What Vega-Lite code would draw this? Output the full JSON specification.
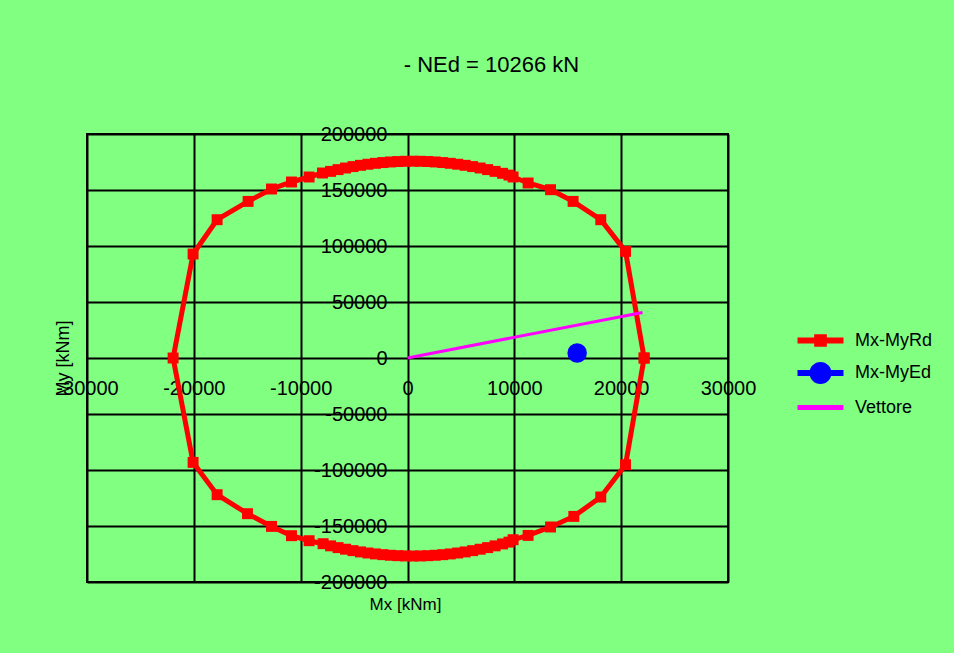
{
  "$schema": "https://vega.github.io/schema/vega-lite/v6.json",
  "autosize": "none",
  "width": 641,
  "height": 448,
  "padding": {"left": 87, "top": 134, "right": 226, "bottom": 71},
  "background": "#80FF80",
  "title": {
    "text": "- NEd = 10266 kN",
    "font": "Liberation Sans",
    "fontSize": 22,
    "fontWeight": "normal",
    "color": "black",
    "anchor": "middle",
    "frame": "group",
    "baseline": "middle",
    "dx": 84,
    "offset": 37
  },
  "data": {
    "values": [
      {"series": "Mx-MyRd", "ord": 0, "mx": 22150, "my": 0},
      {"series": "Mx-MyRd", "ord": 1, "mx": 20410, "my": 95180},
      {"series": "Mx-MyRd", "ord": 2, "mx": 18090, "my": 123480},
      {"series": "Mx-MyRd", "ord": 3, "mx": 15500, "my": 139820},
      {"series": "Mx-MyRd", "ord": 4, "mx": 13390, "my": 150270},
      {"series": "Mx-MyRd", "ord": 5, "mx": 11290, "my": 156250},
      {"series": "Mx-MyRd", "ord": 6, "mx": 9885, "my": 161610},
      {"series": "Mx-MyRd", "ord": 7, "mx": 9500, "my": 163310},
      {"series": "Mx-MyRd", "ord": 8, "mx": 8900, "my": 164900},
      {"series": "Mx-MyRd", "ord": 9, "mx": 8200, "my": 166630},
      {"series": "Mx-MyRd", "ord": 10, "mx": 7500, "my": 168200},
      {"series": "Mx-MyRd", "ord": 11, "mx": 6800, "my": 169630},
      {"series": "Mx-MyRd", "ord": 12, "mx": 6100, "my": 170900},
      {"series": "Mx-MyRd", "ord": 13, "mx": 5400, "my": 172030},
      {"series": "Mx-MyRd", "ord": 14, "mx": 4700, "my": 173000},
      {"series": "Mx-MyRd", "ord": 15, "mx": 4000, "my": 173830},
      {"series": "Mx-MyRd", "ord": 16, "mx": 3300, "my": 174500},
      {"series": "Mx-MyRd", "ord": 17, "mx": 2600, "my": 175030},
      {"series": "Mx-MyRd", "ord": 18, "mx": 1900, "my": 175400},
      {"series": "Mx-MyRd", "ord": 19, "mx": 1200, "my": 175625},
      {"series": "Mx-MyRd", "ord": 20, "mx": 500, "my": 175700},
      {"series": "Mx-MyRd", "ord": 21, "mx": -200, "my": 175625},
      {"series": "Mx-MyRd", "ord": 22, "mx": -900, "my": 175400},
      {"series": "Mx-MyRd", "ord": 23, "mx": -1600, "my": 175030},
      {"series": "Mx-MyRd", "ord": 24, "mx": -2300, "my": 174500},
      {"series": "Mx-MyRd", "ord": 25, "mx": -3000, "my": 173830},
      {"series": "Mx-MyRd", "ord": 26, "mx": -3700, "my": 173000},
      {"series": "Mx-MyRd", "ord": 27, "mx": -4400, "my": 172030},
      {"series": "Mx-MyRd", "ord": 28, "mx": -5100, "my": 170900},
      {"series": "Mx-MyRd", "ord": 29, "mx": -5800, "my": 169630},
      {"series": "Mx-MyRd", "ord": 30, "mx": -6500, "my": 168200},
      {"series": "Mx-MyRd", "ord": 31, "mx": -7200, "my": 166630},
      {"series": "Mx-MyRd", "ord": 32, "mx": -7960, "my": 165180},
      {"series": "Mx-MyRd", "ord": 33, "mx": -9210, "my": 161610},
      {"series": "Mx-MyRd", "ord": 34, "mx": -10860, "my": 157140},
      {"series": "Mx-MyRd", "ord": 35, "mx": -12730, "my": 150890},
      {"series": "Mx-MyRd", "ord": 36, "mx": -14920, "my": 139820},
      {"series": "Mx-MyRd", "ord": 37, "mx": -17820, "my": 123480},
      {"series": "Mx-MyRd", "ord": 38, "mx": -20070, "my": 92860},
      {"series": "Mx-MyRd", "ord": 39, "mx": -21940, "my": 0},
      {"series": "Mx-MyRd", "ord": 40, "mx": -20070, "my": -93210},
      {"series": "Mx-MyRd", "ord": 41, "mx": -17820, "my": -122050},
      {"series": "Mx-MyRd", "ord": 42, "mx": -14980, "my": -139020},
      {"series": "Mx-MyRd", "ord": 43, "mx": -12730, "my": -150360},
      {"series": "Mx-MyRd", "ord": 44, "mx": -10860, "my": -158660},
      {"series": "Mx-MyRd", "ord": 45, "mx": -9210, "my": -163130},
      {"series": "Mx-MyRd", "ord": 46, "mx": -7900, "my": -165800},
      {"series": "Mx-MyRd", "ord": 47, "mx": -7200, "my": -167730},
      {"series": "Mx-MyRd", "ord": 48, "mx": -6500, "my": -169300},
      {"series": "Mx-MyRd", "ord": 49, "mx": -5800, "my": -170730},
      {"series": "Mx-MyRd", "ord": 50, "mx": -5100, "my": -172000},
      {"series": "Mx-MyRd", "ord": 51, "mx": -4400, "my": -173130},
      {"series": "Mx-MyRd", "ord": 52, "mx": -3700, "my": -174100},
      {"series": "Mx-MyRd", "ord": 53, "mx": -3000, "my": -174930},
      {"series": "Mx-MyRd", "ord": 54, "mx": -2300, "my": -175600},
      {"series": "Mx-MyRd", "ord": 55, "mx": -1600, "my": -176130},
      {"series": "Mx-MyRd", "ord": 56, "mx": -900, "my": -176500},
      {"series": "Mx-MyRd", "ord": 57, "mx": -200, "my": -176725},
      {"series": "Mx-MyRd", "ord": 58, "mx": 500, "my": -176800},
      {"series": "Mx-MyRd", "ord": 59, "mx": 1200, "my": -176725},
      {"series": "Mx-MyRd", "ord": 60, "mx": 1900, "my": -176500},
      {"series": "Mx-MyRd", "ord": 61, "mx": 2600, "my": -176130},
      {"series": "Mx-MyRd", "ord": 62, "mx": 3300, "my": -175600},
      {"series": "Mx-MyRd", "ord": 63, "mx": 4000, "my": -174930},
      {"series": "Mx-MyRd", "ord": 64, "mx": 4700, "my": -174100},
      {"series": "Mx-MyRd", "ord": 65, "mx": 5400, "my": -173130},
      {"series": "Mx-MyRd", "ord": 66, "mx": 6100, "my": -172000},
      {"series": "Mx-MyRd", "ord": 67, "mx": 6800, "my": -170730},
      {"series": "Mx-MyRd", "ord": 68, "mx": 7500, "my": -169300},
      {"series": "Mx-MyRd", "ord": 69, "mx": 8200, "my": -167730},
      {"series": "Mx-MyRd", "ord": 70, "mx": 8900, "my": -166000},
      {"series": "Mx-MyRd", "ord": 71, "mx": 9500, "my": -164410},
      {"series": "Mx-MyRd", "ord": 72, "mx": 9885, "my": -162230},
      {"series": "Mx-MyRd", "ord": 73, "mx": 11290, "my": -158390},
      {"series": "Mx-MyRd", "ord": 74, "mx": 13390, "my": -150890},
      {"series": "Mx-MyRd", "ord": 75, "mx": 15570, "my": -141430},
      {"series": "Mx-MyRd", "ord": 76, "mx": 18090, "my": -124110},
      {"series": "Mx-MyRd", "ord": 77, "mx": 20410, "my": -95270},
      {"series": "Mx-MyRd", "ord": 78, "mx": 22150, "my": 0},
      {"series": "Mx-MyEd", "ord": 0, "mx": 15880, "my": 4460},
      {"series": "Vettore", "ord": 0, "mx": 0, "my": 0},
      {"series": "Vettore", "ord": 1, "mx": 22000, "my": 40710}
    ]
  },
  "encoding": {
    "x": {
      "field": "mx",
      "type": "quantitative",
      "scale": {"domain": [-30000, 30000], "nice": false, "zero": false},
      "axis": {
        "values": [-30000, -20000, -10000, 0, 10000, 20000, 30000],
        "orient": "bottom",
        "offset": -224,
        "domain": false,
        "ticks": false,
        "labelPadding": 20,
        "labelExpr": "'' + datum.value",
        "labelOverlap": false,
        "labelFlush": false,
        "labelBound": false,
        "labelFontSize": 20,
        "title": "Mx [kNm]",
        "titleFontSize": 17,
        "titleX": 318,
        "titleY": 246,
        "titleAlign": "center",
        "titleBaseline": "middle"
      }
    },
    "y": {
      "field": "my",
      "type": "quantitative",
      "scale": {"domain": [-200000, 200000], "nice": false, "zero": false},
      "axis": {
        "values": [-200000, -150000, -100000, -50000, 0, 50000, 100000, 150000, 200000],
        "orient": "left",
        "offset": -321,
        "domain": false,
        "ticks": false,
        "labelPadding": 21,
        "labelExpr": "'' + datum.value",
        "labelOverlap": false,
        "labelFlush": false,
        "labelBound": false,
        "labelFontSize": 20,
        "title": "My [kNm]",
        "titleFontSize": 18,
        "titleX": -345,
        "titleY": 224,
        "titleAngle": -90,
        "titleAlign": "center",
        "titleBaseline": "middle"
      }
    }
  },
  "layer": [
    {
      "transform": [{"filter": {"field": "series", "equal": "Mx-MyRd"}}],
      "mark": {"type": "line", "color": "#FF0000", "strokeWidth": 5, "strokeJoin": "miter"},
      "encoding": {"order": {"field": "ord", "type": "quantitative"}}
    },
    {
      "transform": [{"filter": {"field": "series", "equal": "Mx-MyRd"}}],
      "mark": {"type": "point", "shape": "square", "filled": true, "color": "#FF0000", "opacity": 1, "size": 120, "strokeWidth": 0}
    },
    {
      "transform": [{"filter": {"field": "series", "equal": "Vettore"}}],
      "mark": {"type": "line", "color": "#FF00FF", "strokeWidth": 3},
      "encoding": {"order": {"field": "ord", "type": "quantitative"}}
    },
    {
      "transform": [{"filter": {"field": "series", "equal": "Mx-MyEd"}}],
      "mark": {"type": "point", "shape": "circle", "filled": true, "color": "#0000FF", "opacity": 1, "size": 380, "strokeWidth": 0}
    },
    {
      "transform": [{"filter": "false"}],
      "mark": {"type": "point", "filled": true, "opacity": 1, "strokeWidth": 0},
      "encoding": {
        "color": {
          "field": "series",
          "type": "nominal",
          "scale": {"domain": ["Mx-MyRd", "Mx-MyEd", "Vettore"], "range": ["#FF0000", "#0000FF", "#FF00FF"]},
          "legend": {"title": null, "orient": "none", "legendX": 722, "legendY": 195}
        },
        "shape": {
          "field": "series",
          "type": "nominal",
          "scale": {
            "domain": ["Mx-MyRd", "Mx-MyEd", "Vettore"],
            "range": [
              "M-2,-0.26L2,-0.26L2,0.26L-2,0.26Z M-0.55,-0.55L0.55,-0.55L0.55,0.55L-0.55,0.55Z",
              "M-2,-0.26L2,-0.26L2,0.26L-2,0.26Z M-0.96,0A0.96,0.96 0 0,1 0.96,0A0.96,0.96 0 0,1 -0.96,0Z",
              "M-2,-0.22L2,-0.22L2,0.22L-2,0.22Z"
            ]
          },
          "legend": {"title": null, "orient": "none", "legendX": 722, "legendY": 195}
        }
      }
    }
  ],
  "config": {
    "font": "Liberation Sans",
    "view": {"stroke": "#000000", "strokeWidth": 2, "fill": null},
    "axis": {
      "labelFont": "Liberation Sans",
      "titleFont": "Liberation Sans",
      "labelColor": "#000000",
      "titleColor": "#000000",
      "titleFontWeight": "normal",
      "grid": true,
      "gridColor": "#000000",
      "gridWidth": 2,
      "gridOpacity": 1
    },
    "legend": {
      "symbolSize": 529,
      "labelOffset": 23,
      "rowPadding": 11.5,
      "padding": 0,
      "labelFont": "Liberation Sans",
      "labelFontSize": 18,
      "labelColor": "#000000",
      "symbolStrokeWidth": 0,
      "symbolOpacity": 1
    }
  }
}
